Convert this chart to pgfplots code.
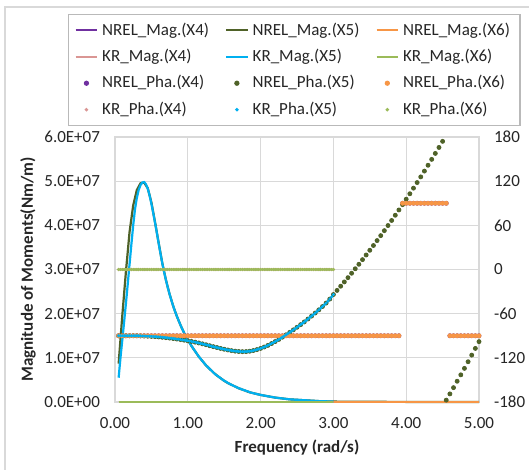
\documentclass[border=0pt]{standalone}
\usepackage{fontspec}
\setmainfont{Carlito}
\usepackage{pgfplots}
\usepackage{pgfplotstable}
\pgfplotsset{compat=1.18}
\definecolor{cPur}{HTML}{7030A0}
\definecolor{cOli}{HTML}{4F6228}
\definecolor{cOra}{HTML}{F79646}
\definecolor{cPin}{HTML}{DA9694}
\definecolor{cBlu}{HTML}{00B0F0}
\definecolor{cGre}{HTML}{9BBB59}
\definecolor{gridc}{HTML}{D9D9D9}
\definecolor{txt}{HTML}{262626}

% NREL: frequency, magnitude X5 (1E7 Nm/m), phase X5, phase X6, zero column
\pgfplotstableread{
w m5 p5 p6 z
0.05 0.87 -90.0 -90 0
0.10 1.95 -90.0 -90 0
0.15 2.95 -90.0 -90 0
0.20 3.85 -90.0 -90 0
0.25 4.45 -90.0 -90 0
0.30 4.80 -90.0 -90 0
0.35 4.95 -90.2 -90 0
0.40 4.97 -90.4 -90 0
0.45 4.84 -90.6 -90 0
0.50 4.52 -90.9 -90 0
0.55 4.07 -91.2 -90 0
0.60 3.60 -91.6 -90 0
0.65 3.14 -92.1 -90 0
0.70 2.76 -92.6 -90 0
0.75 2.44 -93.2 -90 0
0.80 2.17 -93.8 -90 0
0.85 1.94 -94.5 -90 0
0.90 1.74 -95.2 -90 0
0.95 1.56 -96.0 -90 0
1.00 1.41 -96.8 -90 0
1.05 1.27 -97.7 -90 0
1.10 1.15 -98.7 -90 0
1.15 1.03 -99.8 -90 0
1.20 0.93 -101.0 -90 0
1.25 0.83 -102.2 -90 0
1.30 0.75 -103.5 -90 0
1.35 0.67 -104.8 -90 0
1.40 0.60 -106.0 -90 0
1.45 0.54 -107.2 -90 0
1.50 0.48 -108.3 -90 0
1.55 0.43 -109.3 -90 0
1.60 0.39 -110.2 -90 0
1.65 0.35 -110.9 -90 0
1.70 0.31 -111.4 -90 0
1.75 0.28 -111.6 -90 0
1.80 0.25 -111.5 -90 0
1.85 0.22 -111.0 -90 0
1.90 0.20 -110.1 -90 0
1.95 0.18 -108.8 -90 0
2.00 0.16 -107.2 -90 0
2.05 0.145 -105.3 -90 0
2.10 0.13 -103.1 -90 0
2.15 0.115 -100.6 -90 0
2.20 0.10 -97.9 -90 0
2.25 0.09 -95.0 -90 0
2.30 0.08 -91.9 -90 0
2.35 0.07 -88.7 -90 0
2.40 0.06 -85.4 -90 0
2.45 0.055 -82.0 -90 0
2.50 0.05 -78.5 -90 0
2.55 0.045 -74.9 -90 0
2.60 0.04 -71.2 -90 0
2.65 0.035 -67.3 -90 0
2.70 0.03 -63.3 -90 0
2.75 0.025 -59.1 -90 0
2.80 0.02 -54.8 -90 0
2.85 0.018 -50.3 -90 0
2.90 0.015 -45.6 -90 0
2.95 0.012 -40.2 -90 0
3.00 0.010 -34.0 -90 0
3.05 0.009 -28.4 -90 0
3.10 0.008 -22.7 -90 0
3.15 0.008 -16.9 -90 0
3.20 0.007 -11.1 -90 0
3.25 0.007 -5.1 -90 0
3.30 0.006 1.0 -90 0
3.35 0.006 7.1 -90 0
3.40 0.005 13.4 -90 0
3.45 0.005 19.7 -90 0
3.50 0.005 26.1 -90 0
3.55 0.004 32.6 -90 0
3.60 0.004 39.3 -90 0
3.65 0.004 46.0 -90 0
3.70 0.004 52.8 -90 0
3.75 0.003 59.7 -90 0
3.80 0.003 66.6 -90 0
3.85 0.003 73.7 -90 0
3.90 0.003 80.9 -90 0
3.95 0.003 88.1 90 0
4.00 0.002 95.5 90 0
4.05 0.002 102.9 90 0
4.10 0.002 110.5 90 0
4.15 0.002 118.1 90 0
4.20 0.002 125.8 90 0
4.25 0.002 133.7 90 0
4.30 0.002 141.6 90 0
4.35 0.002 149.6 90 0
4.40 0.002 157.7 90 0
4.45 0.001 165.8 90 0
4.50 0.001 174.1 90 0
4.55 0.001 -177.5 90 0
4.60 0.001 -169.0 -90 0
4.65 0.001 -160.5 -90 0
4.70 0.001 -151.8 -90 0
4.75 0.001 -143.1 -90 0
4.80 0.001 -134.3 -90 0
4.85 0.001 -125.3 -90 0
4.90 0.001 -116.3 -90 0
4.95 0.001 -107.2 -90 0
5.00 0.001 -98.0 -90 0
}\nrel

% KR: frequency, magnitude X5 (1E7 Nm/m), phase X5, zero column
\pgfplotstableread{
w m5 p5 z
0.050 0.55 -90.0 0
0.075 1.00 -90.0 0
0.100 1.40 -90.0 0
0.125 1.81 -90.0 0
0.150 2.23 -90.0 0
0.175 2.67 -90.0 0
0.200 3.12 -90.0 0
0.225 3.57 -90.0 0
0.250 4.00 -90.0 0
0.275 4.37 -90.0 0
0.300 4.62 -90.0 0
0.325 4.80 -90.1 0
0.350 4.91 -90.2 0
0.375 4.97 -90.3 0
0.400 4.98 -90.4 0
0.425 4.93 -90.5 0
0.450 4.83 -90.6 0
0.475 4.68 -90.7 0
0.500 4.49 -90.9 0
0.525 4.28 -91.0 0
0.550 4.06 -91.2 0
0.575 3.83 -91.4 0
0.600 3.59 -91.6 0
0.625 3.36 -91.8 0
0.650 3.14 -92.1 0
0.675 2.94 -92.3 0
0.700 2.76 -92.6 0
0.725 2.59 -92.9 0
0.750 2.44 -93.2 0
0.775 2.30 -93.5 0
0.800 2.17 -93.8 0
0.825 2.05 -94.1 0
0.850 1.94 -94.5 0
0.875 1.84 -94.8 0
0.900 1.74 -95.2 0
0.925 1.65 -95.6 0
0.950 1.56 -96.0 0
0.975 1.48 -96.4 0
1.000 1.41 -96.8 0
1.025 1.34 -97.2 0
1.050 1.27 -97.7 0
1.075 1.21 -98.2 0
1.100 1.15 -98.7 0
1.125 1.09 -99.2 0
1.150 1.03 -99.8 0
1.175 0.98 -100.4 0
1.200 0.93 -101.0 0
1.225 0.88 -101.6 0
1.250 0.83 -102.2 0
1.275 0.79 -102.8 0
1.300 0.75 -103.5 0
1.325 0.71 -104.1 0
1.350 0.67 -104.8 0
1.375 0.63 -105.4 0
1.400 0.60 -106.0 0
1.425 0.57 -106.6 0
1.450 0.54 -107.2 0
1.475 0.51 -107.7 0
1.500 0.48 -108.3 0
1.525 0.46 -108.8 0
1.550 0.43 -109.3 0
1.575 0.41 -109.7 0
1.600 0.39 -110.2 0
1.625 0.37 -110.5 0
1.650 0.35 -110.9 0
1.675 0.33 -111.1 0
1.700 0.31 -111.4 0
1.725 0.30 -111.5 0
1.750 0.28 -111.6 0
1.775 0.27 -111.6 0
1.800 0.25 -111.5 0
1.825 0.24 -111.3 0
1.850 0.22 -111.0 0
1.875 0.21 -110.6 0
1.900 0.20 -110.1 0
1.925 0.19 -109.5 0
1.950 0.18 -108.8 0
1.975 0.17 -108.0 0
2.000 0.16 -107.2 0
2.025 0.152 -106.3 0
2.050 0.145 -105.3 0
2.075 0.137 -104.2 0
2.100 0.130 -103.1 0
2.125 0.122 -101.9 0
2.150 0.115 -100.6 0
2.175 0.107 -99.3 0
2.200 0.100 -97.9 0
2.225 0.095 -96.5 0
2.250 0.090 -95.0 0
2.275 0.085 -93.5 0
2.300 0.080 -91.9 0
2.325 0.075 -90.3 0
2.350 0.070 -88.7 0
2.375 0.065 -87.1 0
2.400 0.060 -85.4 0
2.425 0.058 -83.7 0
2.450 0.055 -82.0 0
2.475 0.052 -80.3 0
2.500 0.050 -78.5 0
2.525 0.048 -76.7 0
2.550 0.045 -74.9 0
2.575 0.042 -73.1 0
2.600 0.040 -71.2 0
2.625 0.038 -69.3 0
2.650 0.035 -67.3 0
2.675 0.032 -65.3 0
2.700 0.030 -63.3 0
2.725 0.028 -61.2 0
2.750 0.025 -59.1 0
2.775 0.022 -57.0 0
2.800 0.020 -54.8 0
2.825 0.019 -52.6 0
2.850 0.018 -50.3 0
2.875 0.016 -48.0 0
2.900 0.015 -45.6 0
2.925 0.014 -43.0 0
2.950 0.012 -40.2 0
2.975 0.011 -37.2 0
3.000 0.010 -34.0 0
}\kr

\pgfplotsset{
  base/.style={
    scale only axis, width=182pt, height=132.5pt,
    at={(0pt,0pt)}, anchor=south west,
    xmin=0, xmax=5, clip=false,
    major tick length=0pt,
    tick label style={font=\fontsize{8.5}{10}\selectfont, text=txt},
  },
}

\begin{document}
\begin{tikzpicture}
\path[use as bounding box, fill=white] (-57.5pt,-34pt) rectangle (207pt,201pt);
\draw[gridc, line width=0.9pt] (-55pt,-34pt) -- (-55pt,197.5pt) -- (207pt,197.5pt);

\begin{axis}[base,
  ymin=0, ymax=6,
  xtick={0,1,2,3,4,5},
  xticklabels={0.00,1.00,2.00,3.00,4.00,5.00},
  ytick={0,1,2,3,4,5,6},
  yticklabels={0.0E+00,1.0E+07,2.0E+07,3.0E+07,4.0E+07,5.0E+07,6.0E+07},
  xticklabel style={yshift=-4pt},
  yticklabel style={xshift=-4pt},
  grid=major, major grid style={color=gridc, line width=0.6pt},
  axis line style={color=gridc, line width=0.6pt},
  xlabel={\textbf{Frequency (rad/s)}},
  ylabel={\textbf{Magnitude of Moments(Nm/m)}},
  every axis x label/.style={at={(axis description cs:0.5,0)}, yshift=-23pt, anchor=center, font=\fontsize{8.5}{10}\selectfont, text=txt},
  every axis y label/.style={at={(axis description cs:0,0.5)}, xshift=-43.5pt, rotate=90, anchor=center, font=\fontsize{8.5}{10}\selectfont, text=txt},
]
\addplot[cPur, line width=1.1pt, no markers] table[x=w, y=z] {\nrel};
\addplot[cOli, line width=1.1pt, no markers] table[x=w, y=m5] {\nrel};
\addplot[cOra, line width=1.1pt, no markers] table[x=w, y=z] {\nrel};
\addplot[cPin, line width=1.1pt, no markers] table[x=w, y=z] {\kr};
\addplot[cBlu, line width=1.1pt, no markers] table[x=w, y=m5] {\kr};
\addplot[cGre, line width=1.1pt, no markers] table[x=w, y=z] {\kr};
\end{axis}

\begin{axis}[base,
  ymin=-180, ymax=180,
  axis y line*=right, axis x line=none,
  axis line style={draw=none},
  ytick={-180,-120,-60,0,60,120,180},
  yticklabels={-180,-120,-60,0,60,120,180},
  yticklabel style={xshift=4pt},
  legend columns=3,
  legend image code/.code={\draw[mark repeat=2,mark phase=2,#1] plot coordinates {(0pt,0pt) (5.4pt,0pt) (10.8pt,0pt)};},
  legend style={at={(-0.129,1.464)}, anchor=north west, draw=gray!55, line width=0.6pt,
    font=\fontsize{8.5}{10}\selectfont, text=txt, row sep=1.5pt,
    /tikz/every even column/.append style={column sep=6pt}},
  legend cell align=left,
]
\addlegendimage{cPur, line width=1pt, no markers}\addlegendentry{NREL\_Mag.(X4)}
\addlegendimage{cOli, line width=1pt, no markers}\addlegendentry{NREL\_Mag.(X5)}
\addlegendimage{cOra, line width=1pt, no markers}\addlegendentry{NREL\_Mag.(X6)}
\addlegendimage{cPin, line width=1pt, no markers}\addlegendentry{KR\_Mag.(X4)}
\addlegendimage{cBlu, line width=1pt, no markers}\addlegendentry{KR\_Mag.(X5)}
\addlegendimage{cGre, line width=1pt, no markers}\addlegendentry{KR\_Mag.(X6)}
\addlegendimage{only marks, mark=*, mark size=1pt, cPur}\addlegendentry{NREL\_Pha.(X4)}
\addlegendimage{only marks, mark=*, mark size=1pt, cOli}\addlegendentry{NREL\_Pha.(X5)}
\addlegendimage{only marks, mark=*, mark size=1pt, cOra}\addlegendentry{NREL\_Pha.(X6)}
\addlegendimage{only marks, mark=*, mark size=0.55pt, cPin}\addlegendentry{KR\_Pha.(X4)}
\addlegendimage{only marks, mark=*, mark size=0.55pt, cBlu}\addlegendentry{KR\_Pha.(X5)}
\addlegendimage{only marks, mark=*, mark size=0.55pt, cGre}\addlegendentry{KR\_Pha.(X6)}

\addplot[forget plot, only marks, mark=*, mark size=1pt, cPur] table[x=w, y=p6] {\nrel};
\addplot[forget plot, only marks, mark=*, mark size=1pt, cOli] table[x=w, y=p5] {\nrel};
\addplot[forget plot, only marks, mark=*, mark size=1pt, cOra] table[x=w, y=p6] {\nrel};
\addplot[forget plot, only marks, mark=*, mark size=0.55pt, cPin] table[x=w, y=z] {\kr};
\addplot[forget plot, only marks, mark=*, mark size=0.55pt, cBlu] table[x=w, y=p5] {\kr};
\addplot[forget plot, only marks, mark=*, mark size=0.55pt, cGre] table[x=w, y=z] {\kr};
\end{axis}
\end{tikzpicture}
\end{document}
